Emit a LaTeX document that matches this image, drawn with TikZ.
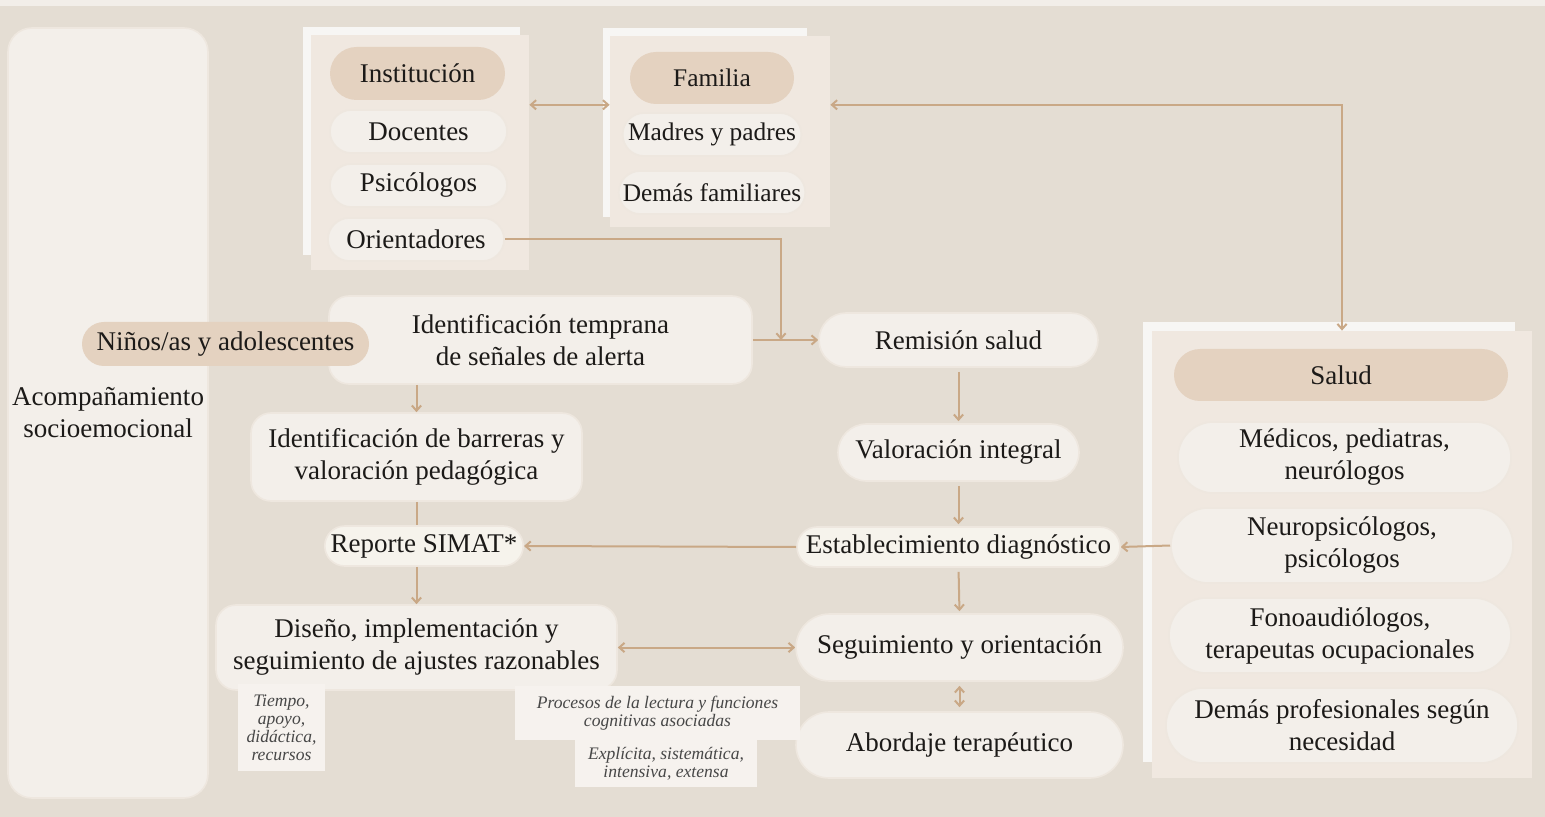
\documentclass[tikz,border=0pt]{standalone}
\usepackage{fontspec}
\setmainfont{Liberation Serif}
\usetikzlibrary{shapes.misc,arrows.meta}

\definecolor{fondo}{HTML}{E4DDD3}
\definecolor{franja}{HTML}{F2EEE9}
\definecolor{claro}{HTML}{F3EFEA}
\definecolor{borde}{HTML}{EEE7DF}
\definecolor{marco}{HTML}{F0E8E0}
\definecolor{sombra}{HTML}{F7F6F4}
\definecolor{cabeza}{HTML}{E4D2C0}
\definecolor{crema}{HTML}{F6F3EC}
\definecolor{nota}{HTML}{F6F2EE}
\definecolor{flecha}{HTML}{C9A886}
\definecolor{tinta}{HTML}{1C1A18}

\tikzset{
  sz/.style 2 args={minimum width=#1*0.5pt, minimum height=#2*0.5pt},
  txt/.style={text=tinta, align=center, inner sep=1pt,
    font=\fontsize{13.5}{16}\selectfont},
  chico/.style={font=\fontsize{12.7}{16}\selectfont},
  pill/.style={txt, rounded rectangle, fill=claro, draw=borde, line width=0.8pt},
  cabpill/.style={pill, fill=cabeza, draw=none},
  caja/.style={txt, rectangle, rounded corners=10pt, fill=claro, draw=borde, line width=0.8pt},
  marcofrente/.style={fill=marco},
  marcoatras/.style={fill=sombra},
  notabox/.style={rectangle, fill=nota, inner sep=1pt, align=center, text=black!72,
    font=\fontsize{8.8}{9}\selectfont\itshape},
  link/.style={draw=flecha, line width=1pt, arrows={-Straight Barb[length=2.6pt,width=4.6pt]}},
  dlink/.style={link, arrows={Straight Barb[length=2.6pt,width=4.6pt]-Straight Barb[length=2.6pt,width=4.6pt]}},
  plain/.style={draw=flecha, line width=1pt}
}

\begin{document}
\begin{tikzpicture}[x=0.5pt,y=-0.5pt]
  %Background
  \fill[fondo] (0,0) rectangle (1545,817);
  \fill[franja] (0,0) rectangle (1545,6);

  %Left panel
  \node[caja, rounded corners=12pt, sz={200}{770}] (acomp) at (108,413)
    {Acompañamiento\\socioemocional};

  %Group frames
  \fill[marcoatras] (303,27) rectangle (520,255);
  \node[marcofrente, sz={218}{235}, inner sep=0pt] (instbox) at (420,152.5) {};
  \fill[marcoatras] (603,28) rectangle (807,217);
  \node[marcofrente, sz={220}{191}, inner sep=0pt] (fambox) at (720,131.5) {};
  \fill[marcoatras] (1143,322) rectangle (1515,762);
  \node[marcofrente, sz={380}{447}, inner sep=0pt] (saludbox) at (1342,554.5) {};

  %Institucion
  \node[cabpill, sz={179}{53}] (inst) at (417.5,73.5) {Institución};
  \node[pill, sz={181}{43}] (doc) at (418.5,131.5) {Docentes};
  \node[pill, sz={181}{43}] (psi) at (418.5,185.5) {Psicólogos};
  \node[pill, sz={180}{43}] (ori) at (416,239.5) {Orientadores};

  %Familia
  \node[cabpill, chico, sz={168}{52}] (fam) at (712,78) {Familia};
  \node[pill, chico, sz={178}{43}] (madres) at (712,134.5) {Madres y padres};
  \node[pill, chico, sz={186}{43}] (demfam) at (712,192.5) {Demás familiares};

  %Salud
  \node[cabpill, sz={338}{52}] (salud) at (1341,375) {Salud};
  \node[pill, sz={337}{71}] (med) at (1344.5,457.5) {Médicos, pediatras,\\neurólogos};
  \node[pill, sz={346}{75}] (neuro) at (1342,545.5) {Neuropsicólogos,\\psicólogos};
  \node[pill, sz={346}{75}] (fono) at (1340,635.5) {Fonoaudiólogos,\\terapeutas ocupacionales};
  \node[pill, sz={356}{75}] (demprof) at (1342,725.5) {Demás profesionales según\\necesidad};

  %Pedagogical route
  \node[caja, sz={423}{88}] (idtemp) at (540.5,340) {Identificación temprana\\de señales de alerta};
  \node[cabpill, sz={291}{44}] (ninos) at (225.5,344) {Niños/as y adolescentes};
  \node[caja, sz={331}{88}] (barreras) at (416.5,457) {Identificación de barreras y\\valoración pedagógica};
  \node[pill, fill=crema, sz={192}{40}] (reporte) at (424,546) {Reporte SIMAT*};
  \node[caja, sz={401}{85}] (diseno) at (416.5,647.5) {Diseño, implementación y\\seguimiento de ajustes razonables};

  %Health route
  \node[pill, sz={283}{54}] (remis) at (958.5,340) {Remisión salud};
  \node[pill, sz={245}{57}] (valor) at (958.5,452.5) {Valoración integral};
  \node[pill, fill=crema, sz={327}{40}] (estab) at (958.5,547) {Establecimiento diagnóstico};
  \node[pill, sz={331}{67}] (segui) at (959.5,647.5) {Seguimiento y orientación};
  \node[pill, sz={331}{66}] (abord) at (959.5,745) {Abordaje terapéutico};

  %Notes
  \node[notabox, sz={87}{87}] (ntiempo) at (281.5,727.5) {Tiempo,\\apoyo,\\didáctica,\\recursos};
  \node[notabox, sz={285}{54}] (nproc) at (657.5,713) {Procesos de la lectura y funciones\\cognitivas asociadas};
  \node[notabox, sz={182}{47}] (nexpl) at (666,763.5) {Explícita, sistemática,\\intensiva, extensa};

  %Connectors
  \coordinate (junc) at (781,340);
  \draw[dlink] (instbox.east |- fam.south) -- (fambox.west |- fam.south);
  \draw[dlink] (fambox.east |- fam.south) -| (saludbox.north);
  \draw[link] (ori.east) -| (junc);
  \draw[link] (idtemp.east) -- (remis.west);
  \draw[link] (idtemp.south -| barreras.north) -- (barreras.north);
  \draw[plain] (barreras.south) -- (reporte.north -| barreras.south);
  \draw[link] (reporte.south -| diseno.north) -- (diseno.north);
  \foreach \a/\b in {remis/valor, valor/estab, estab/segui}
    \draw[link, shorten <=2pt, shorten >=1pt] (\a.south) -- (\b.north);
  \draw[dlink, shorten <=2pt, shorten >=2pt] (segui.south) -- (abord.north);
  \draw[link] (estab.west) -- (reporte.east);
  \draw[link] (neuro.west) -- (estab.east);
  \draw[dlink] (diseno.east) -- (segui.west);
\end{tikzpicture}
\end{document}
